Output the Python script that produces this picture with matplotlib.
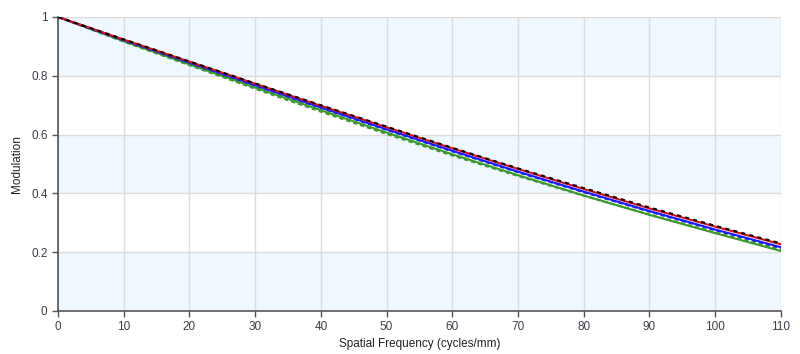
import numpy as np
import matplotlib
matplotlib.use("Agg")
import matplotlib.pyplot as plt

plt.rcParams['font.family'] = ['Liberation Sans', 'DejaVu Sans']

# spatial frequency (cycles/mm)
freq = [0, 10, 20, 30, 40, 50, 60, 70, 80, 90, 100, 110]

# modulation per curve
diff_limit = [1.0, 0.924, 0.849, 0.774, 0.700, 0.627, 0.555, 0.485, 0.418, 0.352, 0.290, 0.230]
red_t = [1.0, 0.923, 0.848, 0.773, 0.698, 0.625, 0.553, 0.483, 0.415, 0.349, 0.287, 0.227]
blue_t = [1.0, 0.921, 0.845, 0.768, 0.692, 0.618, 0.545, 0.474, 0.406, 0.340, 0.277, 0.217]
blue_s = [1.0, 0.921, 0.844, 0.767, 0.691, 0.616, 0.543, 0.472, 0.404, 0.338, 0.275, 0.214]
green_s = [1.0, 0.916, 0.836, 0.756, 0.678, 0.602, 0.529, 0.459, 0.392, 0.328, 0.267, 0.208]
green_t = [1.0, 0.918, 0.839, 0.760, 0.683, 0.607, 0.533, 0.462, 0.393, 0.327, 0.265, 0.204]

fig = plt.figure(figsize=(8, 3.54), dpi=100)
ax = fig.add_axes([0.0725, 0.1215, 0.9035, 0.8305])

# alternating bands
for lo in [0.0, 0.4, 0.8]:
    ax.axhspan(lo, lo + 0.2, color='#eff7ff', zorder=0, lw=0)

ax.grid(True, color='#dcdcdc', lw=1, zorder=1)

ax.plot(freq, green_t, color='#3a9a2a', lw=1.5, zorder=3)
ax.plot(freq, green_s, color='#3a9a2a', lw=1.5, ls=(0, (2, 1.5)), zorder=3)
ax.plot(freq, blue_s, color='#1a1aff', lw=1.5, ls=(0, (2, 1.5)), zorder=4)
ax.plot(freq, blue_t, color='#1a1aff', lw=1.5, zorder=4)
ax.plot(freq, red_t, color='#e01010', lw=1.5, zorder=5)
ax.plot(freq, diff_limit, color='black', lw=1.5, ls=(0, (2, 2)), zorder=6)

ax.set_xlim(0, 110)
ax.set_ylim(0, 1)
ax.set_xticks(range(0, 111, 10))
ax.set_yticks([0, 0.2, 0.4, 0.6, 0.8, 1])
ax.set_yticklabels(['0', '0.2', '0.4', '0.6', '0.8', '1'])

for s in ['top', 'right']:
    ax.spines[s].set_visible(False)
for s in ['left', 'bottom']:
    ax.spines[s].set_color('#555555')
    ax.spines[s].set_linewidth(1.2)
ax.tick_params(colors='#555555', labelcolor='#3a3f4a', labelsize=8.5, length=4, width=1)

ax.set_xlabel('Spatial Frequency (cycles/mm)', fontsize=8.5, color='#222222', labelpad=3)
ax.set_ylabel('Modulation', fontsize=8.5, color='#222222', labelpad=6)

fig.savefig('out.png', dpi=100)
